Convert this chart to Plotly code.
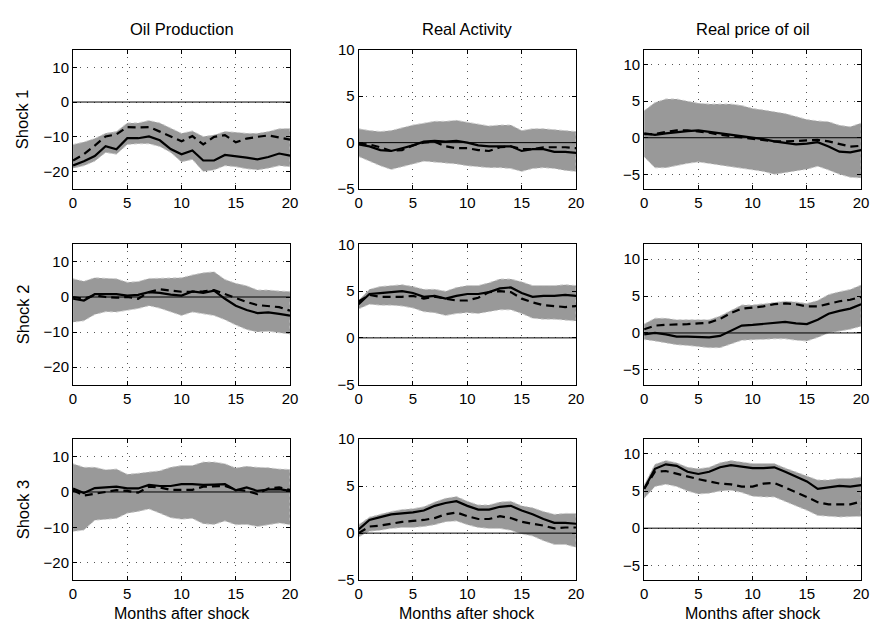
import plotly.graph_objects as go

months = list(range(21))
variables = ["Oil Production", "Real Activity", "Real price of oil"]
shocks = ["Shock 1", "Shock 2", "Shock 3"]
x_ticks = [0, 5, 10, 15, 20]
y_ranges = [[-25, 15], [-5, 10], [-7, 12]]
y_ticks = [[-20, -10, 0, 10], [-5, 0, 5, 10], [-5, 0, 5, 10]]

# Shock 1
s1_oil_solid = [-18.2, -17, -15.5, -12.7, -13.6, -10.4, -10.4, -9.9, -11, -13.5, -15, -13.9, -16.8, -16.8, -15.2, -15.5, -16, -16.5, -15.8, -14.8, -15.4]
s1_oil_dash = [-16.8, -15, -12.5, -9.9, -9.3, -7.2, -7.3, -7.2, -8.5, -10, -11.3, -9.8, -12.2, -10, -9.5, -11.6, -10.5, -10, -9.6, -10.2, -10.8]
s1_oil_up = [-12.2, -11.5, -10.5, -9, -8.5, -6, -6, -5.3, -6, -7.5, -9, -8.3, -9.9, -9.5, -8.5, -8.7, -9, -9, -8.5, -7.7, -7.6]
s1_oil_lo = [-19, -18.3, -17, -14.5, -15, -12.2, -12, -12, -12.8, -14.5, -17.2, -16.5, -20, -19.5, -18.3, -18.6, -19.2, -19.5, -19, -18.3, -18.6]

s1_act_solid = [-0.2, -0.4, -0.8, -0.9, -0.6, -0.3, 0.1, 0.2, 0.1, 0.2, 0, -0.3, -0.4, -0.4, -0.4, -0.9, -0.7, -0.7, -1, -1, -1.1]
s1_act_dash = [-0.1, -0.2, -0.5, -0.9, -0.8, -0.3, 0, 0.1, -0.4, -0.6, -0.6, -0.8, -0.9, -0.5, -0.4, -0.7, -0.7, -0.5, -0.5, -0.5, -0.6]
s1_act_up = [1.5, 1.3, 1.2, 1.3, 1.6, 1.9, 2.1, 2.3, 2.3, 2.4, 2.2, 2, 1.8, 1.9, 1.9, 1.3, 1.5, 1.5, 1.4, 1.3, 1.2]
s1_act_lo = [-1.5, -2, -2.5, -2.9, -2.6, -2.3, -2.0, -2.1, -2.2, -2.3, -2.5, -2.6, -2.7, -2.7, -2.8, -3.1, -2.8, -2.7, -2.8, -3, -3.1]

s1_prc_solid = [0.6, 0.4, 0.6, 0.8, 0.9, 1.0, 0.8, 0.5, 0.3, 0.2, 0, -0.2, -0.5, -0.7, -0.9, -0.8, -0.6, -1.2, -1.9, -2.0, -1.7]
s1_prc_dash = [0.5, 0.5, 0.8, 1.0, 1.0, 0.9, 0.7, 0.4, 0.2, 0.1, -0.1, -0.3, -0.5, -0.5, -0.4, -0.3, -0.3, -0.5, -0.9, -1.2, -1.1]
s1_prc_up = [3.7, 4.8, 5.3, 5.3, 5, 4.7, 4.6, 4.6, 4.6, 4.4, 4, 3.8, 3.6, 3.3, 2.9, 2.5, 2.3, 2.2, 1.7, 1.5, 2.0]
s1_prc_lo = [-2.6, -4.1, -4.1, -3.8, -3.5, -3.3, -3.5, -3.8, -4.0, -4.2, -4.4, -4.6, -5.0, -4.8, -4.5, -4.3, -3.9, -4.4, -5.0, -5.4, -5.5]

# Shock 2
s2_oil_solid = [-0.5, -1, 0.8, 0.8, 0.8, 0.4, 0.6, 1.4, 1.2, 0.7, 0.4, 1.6, 1.2, 1.8, -0.5, -2.5, -3.7, -4.6, -4.4, -4.8, -5.3]
s2_oil_dash = [0, -0.5, 0.5, 0, -0.2, 0, -0.5, 1.4, 2.2, 1.8, 1.5, 1.5, 1.6, 2.0, 0.8, -0.4, -1.4, -2.3, -2.6, -2.9, -3.9]
s2_oil_up = [5.2, 4.5, 5.5, 5.3, 5.2, 4.2, 4.4, 5.3, 5.3, 5.3, 5.5, 6.3, 6.9, 7.2, 5.0, 3.9, 3.2, 2.0, 2.0, 1.7, 1.6]
s2_oil_lo = [-7.2, -6.8, -5, -4.2, -4.3, -3.8, -3.3, -2.5, -3.2, -4.3, -5.3, -4.3, -4.8, -5.3, -6.5, -8, -9.3, -10, -9.8, -10.2, -10.6]

s2_act_solid = [3.6, 4.7, 4.8, 4.9, 5.0, 4.8, 4.4, 4.5, 4.2, 4.5, 4.7, 4.7, 4.9, 5.3, 5.4, 4.8, 4.4, 4.5, 4.5, 4.6, 4.5]
s2_act_dash = [3.9, 4.6, 4.4, 4.4, 4.4, 4.5, 4.2, 4.4, 4.2, 4.0, 4.0, 4.3, 4.9, 5.0, 4.9, 4.2, 3.8, 3.5, 3.4, 3.3, 3.4]
s2_act_up = [4.0, 5.2, 5.5, 5.6, 5.7, 5.5, 5.2, 5.2, 5.0, 5.4, 5.6, 5.6, 5.9, 6.3, 6.3, 6.0, 5.6, 5.6, 5.6, 5.7, 5.6]
s2_act_lo = [3.1, 3.6, 3.5, 3.5, 3.4, 3.2, 2.8, 2.7, 2.4, 2.6, 2.7, 2.6, 2.8, 3.0, 3.0, 2.6, 2.1, 2.0, 2.0, 1.9, 1.8]

s2_prc_solid = [-0.2, 0, -0.2, -0.5, -0.5, -0.5, -0.6, -0.4, 0.3, 1.0, 1.1, 1.2, 1.3, 1.5, 1.3, 1.2, 1.8, 2.6, 3.0, 3.3, 3.9]
s2_prc_dash = [0.5, 1.0, 1.1, 1.1, 1.2, 1.3, 1.4, 1.9, 2.7, 3.3, 3.4, 3.6, 3.9, 4.0, 3.9, 3.6, 3.6, 4.0, 4.3, 4.5, 4.9]
s2_prc_up = [1.2, 2.0, 2.0, 1.8, 1.8, 1.8, 1.8, 2.3, 3.0, 3.8, 3.8, 4.0, 4.2, 4.3, 4.2, 4.0, 4.4, 5.2, 5.6, 5.9, 6.5]
s2_prc_lo = [-0.9, -1.1, -1.3, -1.6, -1.7, -1.8, -2.0, -2.0, -1.5, -1.0, -1.0, -0.9, -0.8, -0.8, -1.0, -1.1, -0.6, 0, 0.2, 0.5, 0.9]

# Shock 3
s3_oil_solid = [1.0, -0.3, 1.1, 1.4, 1.5, 1.0, 1.0, 2.0, 1.7, 1.7, 2.2, 2.2, 2.0, 2.1, 2.2, 0.5, 1.3, 0.3, 0.7, 0.8, 0.3]
s3_oil_dash = [0.5, -1.0, -0.5, 0, 0.5, 0.3, -0.2, 1.5, 1.3, 0.6, 0.5, 0.6, 1.5, 1.5, 1.7, 0.7, 0.3, -0.6, 1.0, 1.3, 0.6]
s3_oil_up = [8.0, 7.0, 7.0, 6.3, 6.5, 5.0, 5.3, 5.6, 6.0, 7.0, 7.5, 7.5, 8.5, 8.5, 8.0, 6.8, 7.3, 7.0, 6.9, 6.5, 6.4]
s3_oil_lo = [-11.2, -10.8, -8, -7.8, -7.5, -6.0, -5.5, -4.8, -6.0, -7.3, -7.7, -7.5, -9.0, -9.2, -8.2, -9.3, -9.2, -9.8, -9.3, -8.8, -9.3]

s3_act_solid = [0.4, 1.4, 1.7, 2.0, 2.1, 2.2, 2.4, 2.9, 3.2, 3.4, 2.9, 2.5, 2.5, 2.8, 2.9, 2.4, 2.0, 1.5, 1.1, 1.1, 1.0]
s3_act_dash = [0, 0.7, 0.8, 1.0, 1.2, 1.3, 1.4, 1.6, 2.0, 2.2, 1.8, 1.5, 1.5, 1.8, 1.6, 1.2, 1.0, 0.8, 0.5, 0.6, 0.6]
s3_act_up = [0.9, 1.7, 2.0, 2.3, 2.5, 2.6, 2.8, 3.3, 3.7, 3.9, 3.4, 3.0, 3.0, 3.3, 3.4, 2.9, 2.7, 2.3, 2.0, 2.1, 2.1]
s3_act_lo = [-0.4, 0.2, 0.3, 0.5, 0.6, 0.6, 0.7, 0.9, 1.2, 1.3, 0.9, 0.6, 0.5, 0.5, 0.3, -0.1, -0.3, -0.8, -1.2, -1.2, -1.5]

s3_prc_solid = [5.3, 8.0, 8.6, 8.4, 7.6, 7.3, 7.6, 8.2, 8.5, 8.3, 8.1, 8.1, 8.2, 7.6, 7.0, 6.3, 5.3, 5.5, 5.7, 5.6, 5.8]
s3_prc_dash = [5.3, 7.6, 7.7, 7.3, 6.9, 6.6, 6.3, 6.0, 5.9, 5.6, 5.6, 6.0, 6.1, 5.5, 4.8, 4.2, 3.5, 3.2, 3.2, 3.2, 3.6]
s3_prc_up = [5.8, 8.6, 9.1, 8.8, 8.2, 8.0, 8.2, 8.8, 9.1, 8.9, 8.7, 8.7, 8.7, 8.1, 7.6, 7.0, 6.5, 6.5, 6.7, 6.7, 6.9]
s3_prc_lo = [4.0, 5.6, 5.9, 5.6, 5.0, 4.6, 4.7, 5.0, 5.1, 4.8, 4.3, 4.2, 4.2, 3.6, 3.0, 2.4, 1.7, 1.6, 1.5, 1.5, 1.6]

panels = [
    [(s1_oil_solid, s1_oil_dash, s1_oil_up, s1_oil_lo),
     (s1_act_solid, s1_act_dash, s1_act_up, s1_act_lo),
     (s1_prc_solid, s1_prc_dash, s1_prc_up, s1_prc_lo)],
    [(s2_oil_solid, s2_oil_dash, s2_oil_up, s2_oil_lo),
     (s2_act_solid, s2_act_dash, s2_act_up, s2_act_lo),
     (s2_prc_solid, s2_prc_dash, s2_prc_up, s2_prc_lo)],
    [(s3_oil_solid, s3_oil_dash, s3_oil_up, s3_oil_lo),
     (s3_act_solid, s3_act_dash, s3_act_up, s3_act_lo),
     (s3_prc_solid, s3_prc_dash, s3_prc_up, s3_prc_lo)],
]

W, H = 877, 630
x_dom_px = [(70, 290), (359.5, 580), (649, 869)]
y_dom_px = [(42, 185), (242, 386), (442, 587)]

FONT = "Liberation Sans, Arial, Helvetica, sans-serif"
TICK_SIZE = 15
TEXT_SIZE = 16.5
fig = go.Figure()
layout = dict(
    width=W, height=H, margin=dict(l=0, r=0, t=0, b=0),
    paper_bgcolor="white", plot_bgcolor="white", showlegend=False,
    font=dict(family=FONT, size=TICK_SIZE, color="black"),
)
shapes = []
annotations = []

for r in range(3):
    for c in range(3):
        idx = r * 3 + c + 1
        xa = "x" if idx == 1 else f"x{idx}"
        ya = "y" if idx == 1 else f"y{idx}"
        solid, dash, up, lo = panels[r][c]
        fig.add_trace(go.Scatter(
            x=months + months[::-1], y=up + lo[::-1], fill="toself",
            fillcolor="#999999", line=dict(color="#cccccc", width=1, dash="dot"),
            mode="lines", hoverinfo="skip", xaxis=xa, yaxis=ya))
        fig.add_trace(go.Scatter(
            x=months, y=dash, mode="lines",
            line=dict(color="black", width=2.2, dash="8px,5px"),
            xaxis=xa, yaxis=ya))
        fig.add_trace(go.Scatter(
            x=months, y=solid, mode="lines",
            line=dict(color="black", width=2.2),
            xaxis=xa, yaxis=ya))
        x0, x1 = x_dom_px[c]
        yt, yb = y_dom_px[r]
        axis_common = dict(
            showline=True, linecolor="black", linewidth=1, mirror="allticks",
            ticks="inside", ticklen=4, tickcolor="black",
            showgrid=True, gridcolor="#555555", gridwidth=1, griddash="1px,6px",
            zeroline=False, tickfont=dict(family=FONT, size=TICK_SIZE, color="black"),
            fixedrange=True,
        )
        layout["xaxis" if idx == 1 else f"xaxis{idx}"] = dict(
            axis_common, domain=[x0 / W, x1 / W], range=[0, 20],
            tickvals=x_ticks, anchor=ya)
        layout["yaxis" if idx == 1 else f"yaxis{idx}"] = dict(
            axis_common, domain=[1 - yb / H, 1 - yt / H], range=y_ranges[c],
            tickvals=y_ticks[c], anchor=xa)
        shapes.append(dict(type="line", xref=f"{xa} domain", yref=ya,
                           x0=0, x1=1, y0=0, y1=0,
                           line=dict(color="black", width=1), layer="above"))

for c in range(3):
    x0, x1 = x_dom_px[c]
    annotations.append(dict(text=variables[c], x=(x0 + x1) / 2 / W, y=1 - 21 / H,
                            xref="paper", yref="paper", showarrow=False,
                            xanchor="center", yanchor="middle",
                            font=dict(family=FONT, size=TEXT_SIZE, color="black")))
    annotations.append(dict(text="Months after shock", x=(x0 + x1) / 2 / W, y=1 - 621 / H,
                            xref="paper", yref="paper", showarrow=False,
                            xanchor="center", yanchor="middle", borderpad=0,
                            font=dict(family=FONT, size=16, color="black")))
for r in range(3):
    yt, yb = y_dom_px[r]
    annotations.append(dict(text=shocks[r], x=19 / W, y=1 - (yt + yb) / 2 / H,
                            xref="paper", yref="paper", showarrow=False, textangle=-90,
                            xanchor="center", yanchor="middle",
                            font=dict(family=FONT, size=TEXT_SIZE, color="black")))

layout["shapes"] = shapes
layout["annotations"] = annotations
fig.update_layout(**layout)
fig.write_html("out.html")
